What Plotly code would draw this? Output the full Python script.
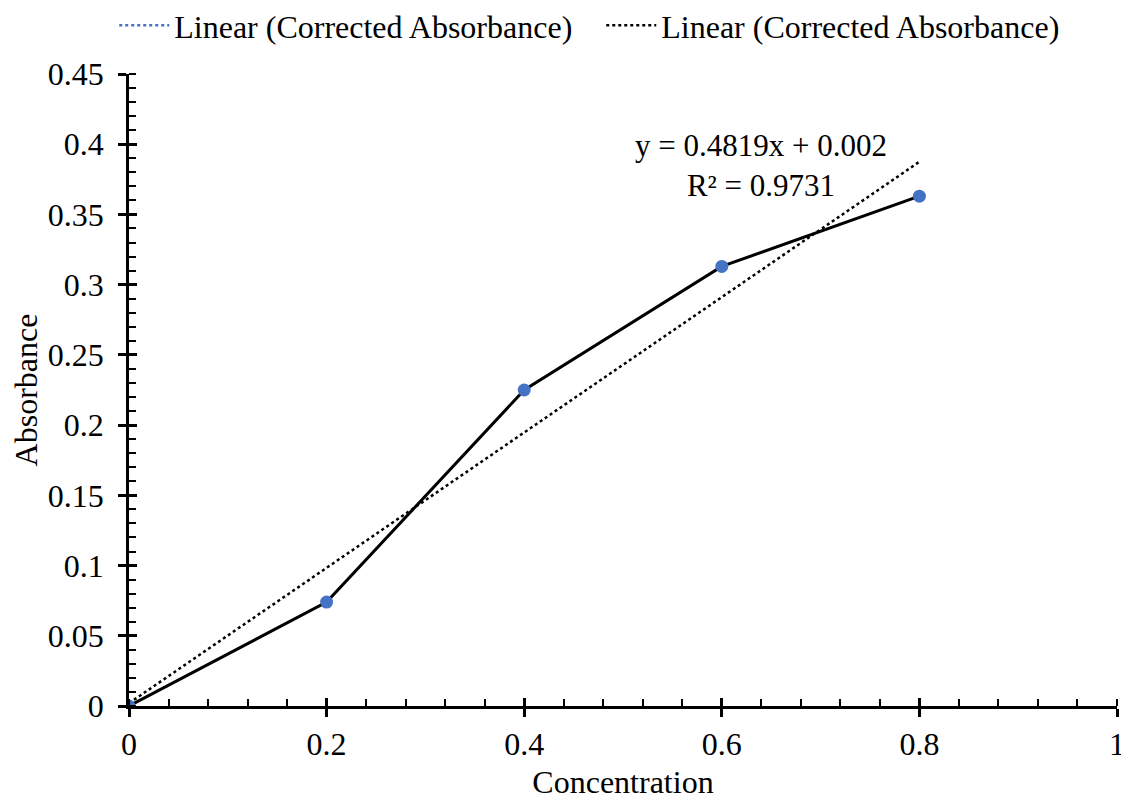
import plotly.graph_objects as go

concentration = [0, 0.2, 0.4, 0.6, 0.8]
absorbance = [0, 0.074, 0.225, 0.313, 0.363]
slope = 0.4819
intercept = 0.002
r2 = 0.9731
trend_x = [0, 0.8]
trend_y = [slope * x + intercept for x in trend_x]

FONT = "Liberation Serif"
FS = 32

fig = go.Figure()
fig.add_trace(go.Scatter(x=[None], y=[None], mode="lines",
                         line=dict(color="#4472C4", dash="dot", width=2.5),
                         name="Linear (Corrected Absorbance)", showlegend=True))
fig.add_trace(go.Scatter(x=trend_x, y=trend_y, mode="lines",
                         line=dict(color="black", dash="dot", width=2.5),
                         name="Linear (Corrected Absorbance)", showlegend=True))
fig.add_trace(go.Scatter(x=concentration, y=absorbance, mode="lines+markers",
                         line=dict(color="black", width=3),
                         marker=dict(color="#4472C4", size=13),
                         name="Corrected Absorbance", showlegend=False))
# invisible trace so the overlay tick axes (inner half of crossing major ticks) are drawn
fig.add_trace(go.Scatter(x=[0.5], y=[0.2], mode="markers", marker=dict(opacity=0),
                         xaxis="x2", yaxis="y2", showlegend=False, hoverinfo="skip"))

fig.add_annotation(x=0.64, y=0.385, xref="x", yref="y",
                   text=f"y = {slope}x + {intercept}<br>R² = {r2}",
                   showarrow=False, font=dict(family=FONT, size=FS - 1, color="black"),
                   align="center")

common = dict(showgrid=False, zeroline=False, showline=True, linecolor="black", linewidth=2.5,
              tickcolor="black", tickformat="~g", automargin=False)

fig.update_layout(
    width=1121, height=799,
    margin=dict(l=121, r=12, t=66, b=101, autoexpand=False),
    paper_bgcolor="white", plot_bgcolor="white",
    font=dict(family=FONT, size=FS, color="black"),
    showlegend=True,
    legend=dict(orientation="h", x=0.478, xanchor="center", y=1.077, yanchor="middle",
                yref="paper", font=dict(family=FONT, size=FS), itemwidth=50,
                entrywidth=422, tracegroupgap=0, bgcolor="rgba(0,0,0,0)"),
    xaxis=dict(range=[0, 1], dtick=0.2, ticks="outside", ticklen=8, tickwidth=2.5,
               minor=dict(dtick=0.04, ticks="inside", ticklen=7, tickwidth=2, tickcolor="black"),
               title=dict(text="Concentration", font=dict(family=FONT, size=FS), standoff=10),
               **common),
    yaxis=dict(range=[0, 0.45], dtick=0.05, ticks="outside", ticklen=8, tickwidth=2.5,
               ticklabelstandoff=8,
               minor=dict(dtick=0.01, ticks="inside", ticklen=7, tickwidth=2, tickcolor="black"),
               title=dict(text="Absorbance", font=dict(family=FONT, size=FS), standoff=10),
               **common),
    xaxis2=dict(range=[0, 1], dtick=0.2, overlaying="x", side="bottom", anchor="y2",
                ticks="inside", ticklen=8, tickwidth=2.5, showticklabels=False,
                showgrid=False, zeroline=False, showline=False, tickcolor="black"),
    yaxis2=dict(range=[0, 0.45], dtick=0.05, overlaying="y", side="left", anchor="x2",
                ticks="inside", ticklen=8, tickwidth=2.5, showticklabels=False,
                showgrid=False, zeroline=False, showline=False, tickcolor="black"),
)

fig.write_html("out.html")
